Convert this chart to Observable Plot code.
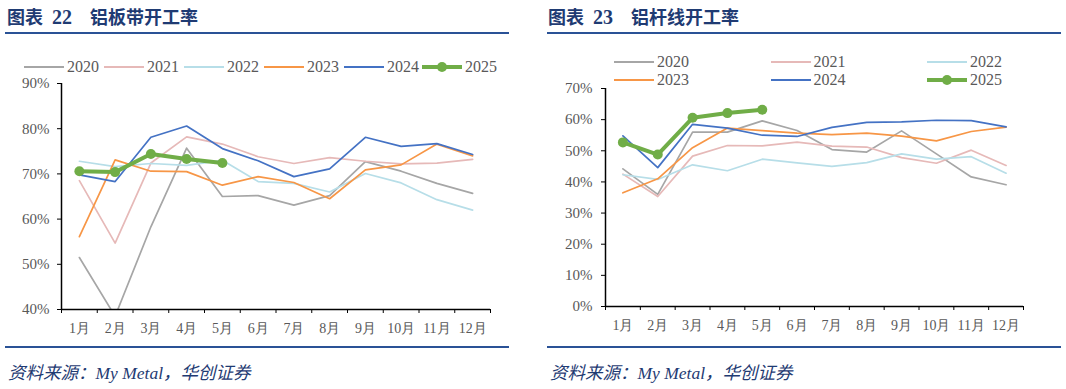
<!DOCTYPE html>
<html>
<head>
<meta charset="utf-8">
<script src="https://cdn.jsdelivr.net/npm/d3@7"></script>
<script src="https://cdn.jsdelivr.net/npm/@observablehq/plot@0.6"></script>
<style>
  html, body { margin: 0; padding: 0; background: #fff; }
  #root { position: relative; width: 1066px; height: 389px; overflow: hidden; }
  .abs { position: absolute; }
  .title { color: #1f3b73; font-size: 18px; font-weight: bold; white-space: nowrap; line-height: 20px; }
  .title .cjk { font-family: "Noto Sans CJK SC", sans-serif; }
  .title .num { font-family: "Liberation Serif", serif; font-size: 20px; }
  .rule { height: 2px; background: #2a5296; }
  .source { color: #1f3b73; font-size: 17.5px; font-style: italic; white-space: nowrap; line-height: 20px;
            font-family: "Liberation Serif", "Noto Sans CJK SC", serif; }
  .leg { display: flex; align-items: center; white-space: nowrap; font-family: "Liberation Serif", serif;
         font-size: 16px; color: #595959; height: 20px; }
  .leg svg { margin-right: 3px; }
</style>
</head>
<body>
<div id="root"></div>
<script>
// ---- data ----
const months = ["1月","2月","3月","4月","5月","6月","7月","8月","9月","10月","11月","12月"];
const years = ["2020","2021","2022","2023","2024","2025"];
const colors = ["#a6a6a6","#e6b9b8","#b7dee8","#f79646","#4472c4","#70ad47"];

// 铝板带开工率 (%)
const plate2020 = [51.5, 38.5, 58.3, 75.7, 65.0, 65.2, 63.1, 65.2, 72.7, 70.6, 67.9, 65.7];
const plate2021 = [68.5, 54.7, 72.4, 78.2, 76.6, 73.8, 72.3, 73.6, 72.8, 72.2, 72.4, 73.2];
const plate2022 = [72.8, 71.6, 72.3, 71.9, 73.0, 68.3, 67.9, 66.0, 70.1, 68.0, 64.3, 62.0];
const plate2023 = [56.1, 73.1, 70.6, 70.5, 67.5, 69.4, 68.1, 64.5, 70.9, 72.0, 76.6, 74.0];
const plate2024 = [69.8, 68.3, 78.1, 80.6, 75.6, 72.9, 69.4, 71.1, 78.1, 76.1, 76.7, 74.3];
const plate2025 = [70.6, 70.4, 74.4, 73.3, 72.4];

// 铝杆线开工率 (%)
const rod2020 = [44.2, 36.0, 56.0, 56.0, 59.6, 56.5, 50.4, 49.6, 56.4, 49.0, 41.6, 39.1];
const rod2021 = [42.5, 35.3, 48.3, 51.7, 51.6, 52.8, 51.5, 51.2, 47.8, 46.0, 50.2, 45.3];
const rod2022 = [42.3, 40.8, 45.5, 43.6, 47.3, 46.1, 45.0, 46.2, 49.0, 47.3, 48.1, 42.8];
const rod2023 = [36.5, 41.0, 51.0, 57.3, 56.5, 55.7, 55.2, 55.7, 54.7, 53.2, 56.2, 57.6];
const rod2024 = [54.8, 44.6, 58.5, 57.3, 55.0, 54.6, 57.5, 59.1, 59.3, 59.8, 59.7, 57.7];
const rod2025 = [52.7, 48.8, 60.6, 62.1, 63.2];

const plateTicks = [40, 50, 60, 70, 80, 90];
const rodTicks = [0, 10, 20, 30, 40, 50, 60, 70];

const plateSeries = [plate2020, plate2021, plate2022, plate2023, plate2024, plate2025];
const rodSeries = [rod2020, rod2021, rod2022, rod2023, rod2024, rod2025];

function toRows(series) {
  const rows = [];
  series.forEach((arr, i) => arr.forEach((v, j) => rows.push({year: years[i], m: j + 1, v})));
  return rows;
}

const root = document.getElementById("root");
function el(cls, css, html) {
  const d = document.createElement("div");
  d.className = "abs " + cls;
  Object.assign(d.style, css);
  if (html) d.innerHTML = html;
  root.appendChild(d);
  return d;
}

function makeChart(rows, yTicks, marginLeft, height, marginBottom, tickPad) {
  const lo = yTicks[0], hi = yTicks[yTicks.length - 1];
  const marks = [
    Plot.axisY(yTicks, {tickSize: 4, tickPadding: tickPad, tickFormat: d => d + "%", fontSize: 15,
      fill: "#595959", stroke: "#000", fontFamily: "Liberation Serif", label: null}),
    Plot.axisX(d3.range(0.5, 13, 1), {tickSize: 4, tickFormat: () => "", stroke: "#000", label: null}),
    Plot.axisX(d3.range(1, 13), {tickSize: 0, tickPadding: 14, tickFormat: d => months[d - 1], fontSize: 14,
      fill: "#595959", fontFamily: "Liberation Serif", label: null})
  ];
  years.forEach((y, i) => {
    const data = rows.filter(r => r.year === y);
    const last = i === years.length - 1;
    marks.push(Plot.line(data, {x: "m", y: "v", stroke: colors[i], strokeWidth: last ? 4 : 1.7, clip: true}));
    if (last) marks.push(Plot.dot(data, {x: "m", y: "v", r: 5, fill: colors[i], stroke: "none"}));
  });
  marks.push(Plot.ruleY([lo], {stroke: "#000", strokeWidth: 1.5}));
  marks.push(Plot.ruleX([0.5], {stroke: "#000", strokeWidth: 1.5}));
  return Plot.plot({
    width: 533, height, marginTop: 8, marginBottom, marginLeft, marginRight: 43,
    x: {type: "linear", domain: [0.5, 12.5]},
    y: {domain: [lo, hi]},
    style: {background: "transparent", color: "#000", overflow: "visible"},
    marks
  });
}

function legendItem(i, x, y) {
  const last = i === years.length - 1;
  const sw = `<svg width="40" height="12"><line x1="0" y1="6" x2="40" y2="6" stroke="${colors[i]}" stroke-width="${last ? 4 : 2}"/>` +
    (last ? `<circle cx="20" cy="6" r="5" fill="${colors[i]}"/>` : "") + `</svg>`;
  el("leg", {left: x + "px", top: (y - 10) + "px"}, sw + `<span>${years[i]}</span>`);
}

// ---- left panel ----
el("title", {left: "7px", top: "6px"}, '<span class="cjk">图表</span>&nbsp;&nbsp;<span class="num">22</span>&nbsp;&nbsp;&nbsp;&nbsp;<span class="cjk">铝板带开工率</span>');
el("rule", {left: "5px", top: "32px", width: "504px"});
const c1 = el("", {left: "0px", top: "75px"});
c1.appendChild(makeChart(toRows(plateSeries), plateTicks, 61, 260, 26, 8));
years.forEach((y, i) => legendItem(i, 24 + i * 80 - (i === 5 ? 2 : 0), 67));
el("rule", {left: "5px", top: "346px", width: "504px"});
el("source", {left: "8px", top: "363px"}, "资料来源：My Metal，华创证券");

// ---- right panel ----
el("title", {left: "548px", top: "6px"}, '<span class="cjk">图表</span>&nbsp;&nbsp;<span class="num">23</span>&nbsp;&nbsp;&nbsp;&nbsp;<span class="cjk">铝杆线开工率</span>');
el("rule", {left: "547px", top: "32px", width: "514px"});
const c2 = el("", {left: "533px", top: "80px"});
c2.appendChild(makeChart(toRows(rodSeries), rodTicks, 72, 260, 34, 9));
years.forEach((y, i) => legendItem(i, 614 + (i % 3) * 156.5, i < 3 ? 62 : 80));
el("rule", {left: "547px", top: "346px", width: "514px"});
el("source", {left: "550px", top: "363px"}, "资料来源：My Metal，华创证券");
</script>
</body>
</html>
